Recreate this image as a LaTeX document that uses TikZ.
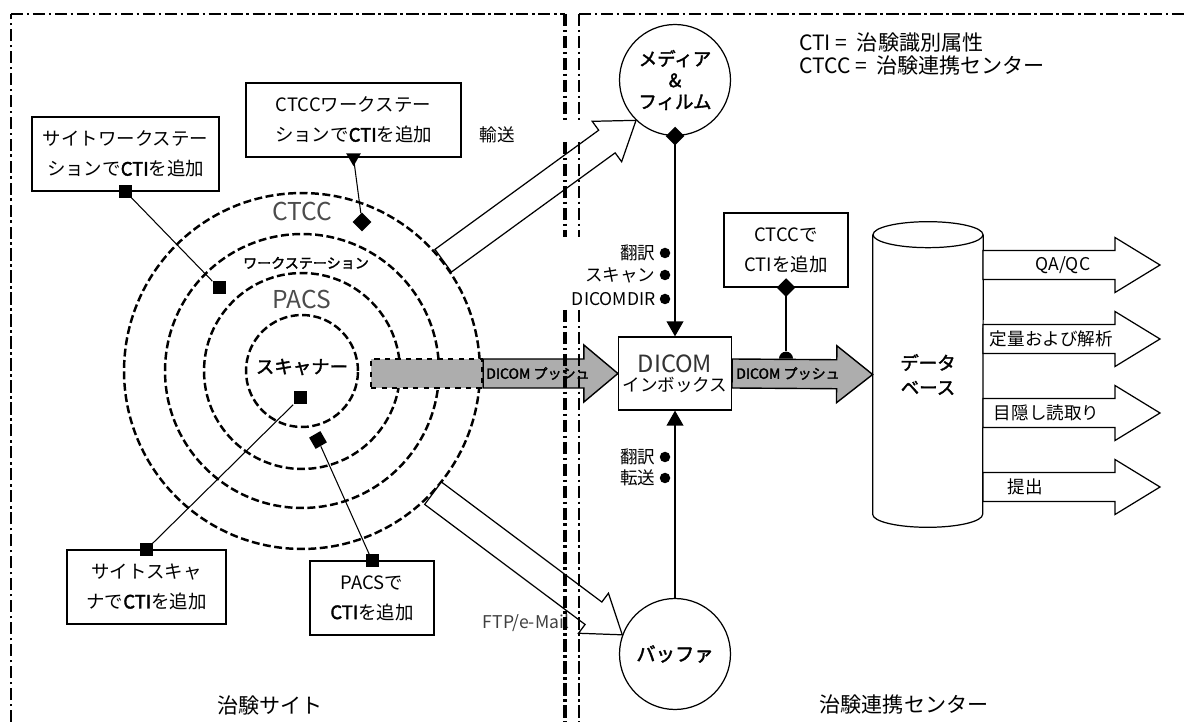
\documentclass[tikz,border=0pt]{standalone}
\usepackage{fontspec}
\setmainfont{Noto Sans CJK JP}[AutoFakeBold=2]
\usetikzlibrary{shapes.geometric, arrows.meta, positioning, calc}

% block arrow: options, tail, tip, body half width, head half width, head length
\newcommand{\blockarrow}[6]{%
  \coordinate (ba-h) at ($(#3)!#6!(#2)$);
  \draw[#1] ($(#2)!#4!90:(#3)$) -- ($(ba-h)!#4!-90:(#2)$)
    -- ($(ba-h)!#5!-90:(#2)$) -- (#3) -- ($(ba-h)!#5!90:(#2)$)
    -- ($(ba-h)!#4!90:(#2)$) -- ($(#2)!#4!-90:(#3)$) -- cycle;
}

\tikzset{
  frameline/.style={
    line width=1.5pt, dash pattern=on 7pt off 2pt on 1.5pt off 2pt
  },
  ring/.style={
    circle, draw, line width=1.4pt, dash pattern=on 4.5pt off 2pt, inner sep=0pt
  },
  ctibox/.style={
    draw, line width=0.7pt, align=center, minimum height=1.48cm,
    inner sep=2pt, font=\fontsize{10.5}{17}\selectfont
  },
  hub/.style={
    circle, draw, line width=0.7pt, minimum size=2.22cm, inner sep=0pt,
    align=center, font=\bfseries\fontsize{10.5}{12.2}\selectfont
  },
  sqmark/.style={rectangle, fill=black, minimum size=0.26cm, inner sep=0pt},
  dmark/.style={diamond, fill=black, minimum size=0.38cm, inner sep=0pt},
  trimark/.style={
    regular polygon, regular polygon sides=3, shape border rotate=180,
    fill=black, minimum size=0.34cm, inner sep=0pt
  },
  semimark/.style={semicircle, fill=black, minimum size=0.14cm, inner sep=0pt},
  dotmark/.style={circle, fill=black, minimum size=0.21cm, inner sep=0pt},
  tie/.style={line width=0.6pt},
  feed/.style={line width=0.8pt, -{Triangle[length=8.5pt, width=9.5pt]}},
  pusharrow/.style={fill=black!32, draw, line width=0.8pt},
  outarrow/.style={fill=white, draw, line width=0.7pt},
  sidelabel/.style={font=\fontsize{10}{12}\selectfont, inner sep=2pt},
  ringlabel/.style={font=\fontsize{14}{16}\selectfont, text=black!70},
  pushlabel/.style={font=\bfseries\fontsize{8}{10}\selectfont, inner sep=0pt},
  arealabel/.style={font=\fontsize{12}{14}\selectfont},
}

\begin{document}
\begin{tikzpicture}[x=0.02cm, y=-0.02cm]
  \useasboundingbox (0,0) rectangle (1184,722);

  % ── site rings ──
  \foreach \d/\n in {2.24/scan, 3.92/pacs, 5.48/ws, 7.12/ctcc}
    \node[ring, minimum size=\d cm] (\n) at (302,371) {};
  \node[ringlabel] (ctcc-lbl) at (302,211) {CTCC};
  \node[font=\bfseries\fontsize{8}{10}\selectfont] (ws-lbl) at (306,263)
    {ワークステーション};
  \node[ringlabel] (pacs-lbl) at (302,299) {PACS};
  \node[font=\bfseries\fontsize{10.5}{12}\selectfont] (scan-lbl) at (302,367)
    {スキャナー};

  % ── boxes where the CTI is added ──
  \node[ctibox, minimum width=3.74cm] (sitews) at (125.5,154)
    {サイトワークステー\\ションで\textbf{CTI}を追加};
  \node[ctibox, minimum width=4.3cm] (ctccws) at (353.5,120)
    {CTCCワークステー\\ションで\textbf{CTI}を追加};
  \node[ctibox, minimum width=3.18cm] (sitescan) at (146.5,587)
    {サイトスキャ\\ナで\textbf{CTI}を追加};
  \node[ctibox, minimum width=2.48cm] (pacsbox) at (372,598)
    {PACSで\\\textbf{CTI}を追加};
  \node[ctibox, minimum width=2.48cm] (ctccbox) at (786,250)
    {CTCCで\\CTIを追加};

  \node[sqmark] at (sitews.south) {};
  \node[sqmark] (ws-m) at (219,288) {};
  \draw[tie] (sitews.south) -- (ws-m);
  \node[trimark] at (ctccws.south) {};
  \node[dmark] (ctcc-m) at (362,222) {};
  \draw[tie] (ctccws.south) -- (ctcc-m);
  \node[sqmark] at (sitescan.north) {};
  \node[sqmark] (scan-m) at (300,398) {};
  \draw[tie] (sitescan.north) -- (scan-m);
  \node[sqmark] at (pacsbox.north) {};
  \node[sqmark, rotate=30] (pacs-m) at (318,440) {};
  \draw[tie] (pacsbox.north) -- (pacs-m);

  % ── CTCC side ──
  \node[hub] (media) at (675,80) {メディア\\\&\\フィルム};
  \node[hub, font=\bfseries\fontsize{11}{12}\selectfont] (buffer) at (675,654)
    {バッファ};
  \node[draw, line width=0.7pt, align=center, minimum width=2.26cm,
    minimum height=1.46cm, inner sep=1pt] (inbox) at (675,373.5)
    {{\fontsize{13.5}{15}\selectfont\color{black!80}DICOM}\\[-1pt]
     {\fontsize{10}{12}\selectfont インボックス}};
  \node[dmark] at (media.south) {};
  \draw[feed] (media.south) -- (inbox.north);
  \draw[feed] (buffer.north) -- (inbox.south);

  \foreach \y/\t/\n in {253/翻訳/a1, 275/スキャン/a2, 299/DICOMDIR/a3,
                        457/翻訳/b1, 478/転送/b2}
    \node[dotmark, label={[sidelabel]left:\t}] (\n) at (665,\y) {};

  % ── database ──
  \node[minimum width=2.2cm, minimum height=5.58cm, align=center,
    font=\bfseries\fontsize{10.5}{14}\selectfont] (db) at (928,374.5)
    {データ\\ベース};
  \draw[line width=0.7pt] (db.north) ellipse [x radius=1.1cm, y radius=0.26cm];
  \draw[line width=0.7pt] (db.north west) -- (db.south west)
    arc[start angle=180, end angle=360, x radius=1.1cm, y radius=0.26cm]
    -- (db.north east);

  % ── DICOM push ──
  \node[pusharrow, dashed, line width=1.2pt, minimum width=2.22cm,
    minimum height=0.58cm, inner sep=0pt] (push0) at (426.5,373.5) {};
  \coordinate (push1) at (push0.east);
  \blockarrow{pusharrow}{push1}{inbox.west}{0.29cm}{0.57cm}{0.68cm}
  \node[pushlabel] at (538,373.5) {DICOM プッシュ};
  \blockarrow{pusharrow}{inbox.east}{db.west}{0.29cm}{0.57cm}{0.72cm}
  \node[pushlabel] at (788,373.5) {DICOM プッシュ};
  \node[semimark, anchor=chord center] (ctcc-s) at (786,359) {};
  \node[dmark] at (ctccbox.south) {};
  \draw[tie] (ctccbox.south) -- (ctcc-s);

  % ── transfer arrows ──
  \blockarrow{outarrow}{ctcc.38}{media.226}{0.28cm}{0.5cm}{0.72cm}
  \blockarrow{outarrow}{ctcc.-43}{buffer.160}{0.28cm}{0.5cm}{0.72cm}
  \node[sidelabel] at (497,135) {輸送};
  \node[sidelabel, text=black!75] at (526,623) {FTP/e-Mail};

  % ── outputs ──
  \foreach \y/\n in {265/qa, 339/quant, 413/blind, 487/submit} {
    \coordinate (\n-t) at (983,\y);
    \coordinate (\n-h) at (1160,\y);
    \blockarrow{outarrow}{\n-t}{\n-h}{0.29cm}{0.55cm}{0.9cm}
  }
  \node[sidelabel] at (1063,265) {QA/QC};
  \node[sidelabel, anchor=west] at (986,339) {定量および解析};
  \node[sidelabel, anchor=west] at (990,413) {目隠し読取り};
  \node[sidelabel, anchor=west] at (1004,487) {提出};

  % ── legend and areas ──
  \node[arealabel, anchor=west] at (793,43) {CTI =\ \ 治験識別属性};
  \node[arealabel, anchor=west] at (793,66) {CTCC =\ \ 治験連携センター};
  \node[arealabel] at (270,705) {治験サイト};
  \node[arealabel] at (904,705) {治験連携センター};

  % ── frames ──
  \draw[frameline, line width=1.1pt] (11,722) -- (11,14);
  \draw[frameline, line width=1.6pt] (11,14) -- (565,14);
  \draw[frameline, line width=2pt] (565,14) -- (565,123) (565,142) -- (565,237)
    (565,310) -- (565,722);
  \draw[frameline, line width=0.9pt] (579,14) -- (579,123) (579,142) -- (579,237)
    (579,310) -- (579,722);
  \draw[frameline, line width=1.6pt] (579,14) -- (1184,14);
\end{tikzpicture}
\end{document}
